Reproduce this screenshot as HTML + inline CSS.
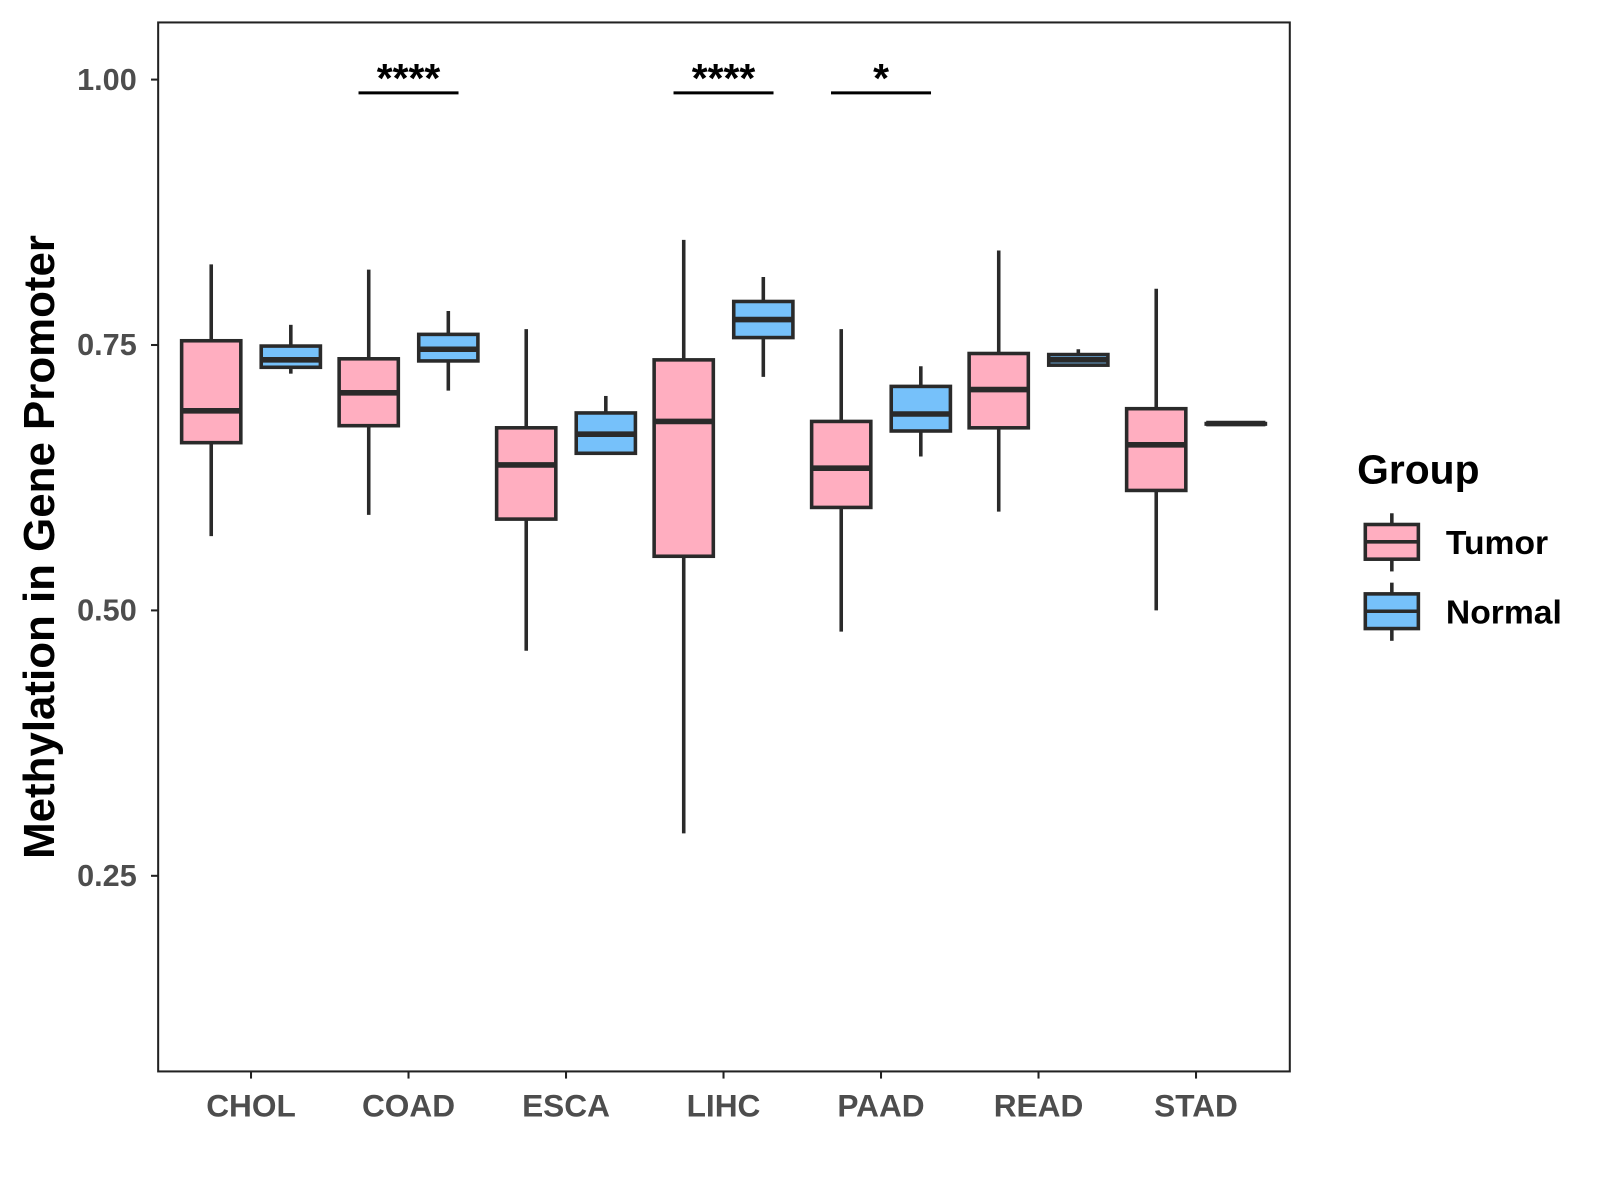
<!DOCTYPE html>
<html><head><meta charset="utf-8"><style>
html,body{margin:0;padding:0;background:#fff;}
svg{display:block;font-family:"Liberation Sans",Arial,sans-serif;}
</style></head><body>
<svg id="chart" width="1600" height="1200" viewBox="0 0 1568 1176">
<rect x="155" y="22" width="1109" height="1028" fill="#fff" stroke="#222" stroke-width="2"/>
<g id="marks"></g>
<text transform="translate(53,536) rotate(-90)" text-anchor="middle" font-size="43" font-weight="bold" fill="#000">Methylation in Gene Promoter</text>
<g>
<text x="1330" y="474" font-size="40" font-weight="bold" fill="#000">Group</text>
<g>
<line x1="1364" y1="503" x2="1364" y2="560" stroke="#2a2a2a" stroke-width="3.5"/>
<rect x="1338" y="514" width="52" height="34" fill="#FFAEC0" stroke="#2a2a2a" stroke-width="3.5"/>
<line x1="1338" y1="531" x2="1390" y2="531" stroke="#2a2a2a" stroke-width="3.5"/>
<text x="1417" y="543" font-size="33" font-weight="bold" fill="#000">Tumor</text>
</g>
<g>
<line x1="1364" y1="571" x2="1364" y2="628" stroke="#2a2a2a" stroke-width="3.5"/>
<rect x="1338" y="582" width="52" height="34" fill="#76C1FA" stroke="#2a2a2a" stroke-width="3.5"/>
<line x1="1338" y1="599" x2="1390" y2="599" stroke="#2a2a2a" stroke-width="3.5"/>
<text x="1417" y="611" font-size="33" font-weight="bold" fill="#000">Normal</text>
</g>
</g>
</svg>
<script>
const categories = ["CHOL","COAD","ESCA","LIHC","PAAD","READ","STAD"];
// [whiskerLow, q1, median, q3, whiskerHigh]
const tumorStats = [
 [0.570,0.658,0.688,0.754,0.826],
 [0.590,0.674,0.705,0.737,0.821],
 [0.462,0.586,0.637,0.672,0.765],
 [0.290,0.551,0.678,0.736,0.849],
 [0.480,0.597,0.634,0.678,0.765],
 [0.593,0.672,0.708,0.742,0.839],
 [0.500,0.613,0.656,0.690,0.803]
];
const normalStats = [
 [0.723,0.729,0.736,0.749,0.769],
 [0.707,0.735,0.746,0.760,0.782],
 [0.648,0.648,0.666,0.686,0.702],
 [0.720,0.757,0.774,0.791,0.814],
 [0.645,0.669,0.685,0.711,0.730],
 [0.731,0.731,0.736,0.741,0.746],
 [0.676,0.676,0.676,0.676,0.676]
];
const yTicks = [0.25,0.50,0.75,1.00];
const yTickLabels = ["0.25","0.50","0.75","1.00"];
const sigCategories = ["COAD","LIHC","PAAD"];
const sigLabels = ["****","****","*"];
const sigLevel = 0.9875;

const NS="http://www.w3.org/2000/svg";
const g=document.getElementById('marks');
const yS=v=>78+(1-v)*1040.4;
const xS=i=>246+i*154.35;
const off=39, bw=58;
function mk(tag,attrs,parent){const e=document.createElementNS(NS,tag);for(const k in attrs)e.setAttribute(k,attrs[k]);(parent||g).appendChild(e);return e;}

yTicks.forEach((t,i)=>{
 const y=yS(t);
 const l=mk('line',{x1:148,x2:155,y1:y,y2:y,stroke:'#222','stroke-width':2});
 
 
 const tx=mk('text',{x:134,y:y+10,'text-anchor':'end','font-size':30,'font-weight':'bold',fill:'#4d4d4d'});
 tx.textContent=yTickLabels[i];
 
 
});
categories.forEach((c,i)=>{
 const x=xS(i);
 const l=mk('line',{x1:x,x2:x,y1:1050,y2:1057,stroke:'#222','stroke-width':2});
 
 
 const tx=mk('text',{x:x,y:1094,'text-anchor':'middle','font-size':31,'font-weight':'bold',fill:'#4d4d4d'});
 tx.textContent=c;
 
 
});
function box(i,s,dx,fill,name){
 const cx=xS(i)+dx;
 const grp=mk('g',{});
 
 
 mk('line',{x1:cx,x2:cx,y1:yS(s[0]),y2:yS(s[4]),stroke:'#2a2a2a','stroke-width':3.5},grp);
 mk('rect',{x:cx-bw/2,y:yS(s[3]),width:bw,height:Math.max(yS(s[1])-yS(s[3]),0.5),fill:fill,stroke:'#2a2a2a','stroke-width':3.5},grp);
 mk('line',{x1:cx-bw/2,x2:cx+bw/2,y1:yS(s[2]),y2:yS(s[2]),stroke:'#2a2a2a','stroke-width':5.5},grp);
}
categories.forEach((c,i)=>{
 box(i,tumorStats[i],-off,'#FFAEC0','box-'+c.toLowerCase()+'-tumor');
 box(i,normalStats[i],off,'#76C1FA','box-'+c.toLowerCase()+'-normal');
});
sigCategories.forEach((c,k)=>{
 const i=categories.indexOf(c);
 const y=yS(sigLevel);
 const l=mk('line',{x1:xS(i)-off-10,x2:xS(i)+off+10,y1:y,y2:y,stroke:'#000','stroke-width':3});
 
 
 const tx=mk('text',{x:xS(i),y:y-1,'text-anchor':'middle','font-size':40,'font-weight':'bold',fill:'#000'});
 tx.textContent=sigLabels[k];
 
 
});
</script>
</body></html>
